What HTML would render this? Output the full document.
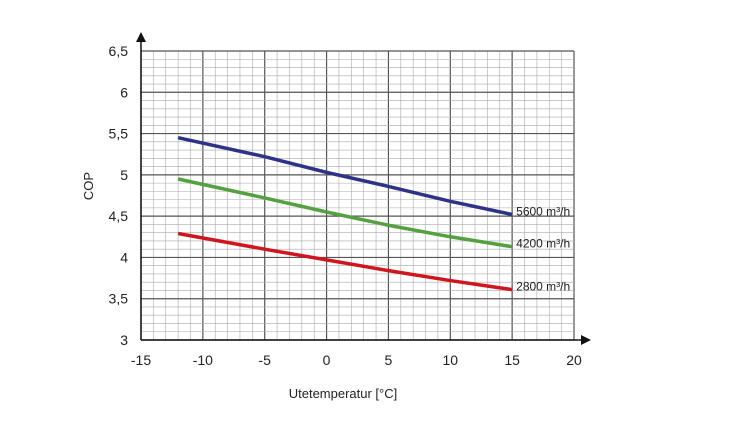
<!DOCTYPE html>
<html><head><meta charset="utf-8"><style>
body{margin:0;background:#fff;font-family:"Liberation Sans",sans-serif}
svg text{font-family:"Liberation Sans",sans-serif;fill:#222}
</style></head><body>
<svg id="c" width="750" height="436"></svg>
<script>
const xs=[-12,-5,0,5,10,15];
const blue=[5.45,5.22,5.03,4.86,4.68,4.52];
const green=[4.95,4.72,4.55,4.39,4.25,4.13];
const red=[4.29,4.10,3.97,3.84,3.72,3.61];
const xTicks=[-15,-10,-5,0,5,10,15,20];
const yTicks=["3","3,5","4","4,5","5","5,5","6","6,5"];
const labels=["5600 m³/h","4200 m³/h","2800 m³/h"];
const L=141,R=574,T=51,B=340;
const X=v=>L+(v+15)/35*(R-L), Y=v=>B-(v-3)/3.5*(B-T);
const s=document.getElementById('c'),ns="http://www.w3.org/2000/svg";
function el(t,a,p){const e=document.createElementNS(ns,t);for(const k in a)e.setAttribute(k,a[k]);(p||s).appendChild(e);return e;}
for(let i=-15;i<=20;i++){const l=el('line',{x1:X(i),x2:X(i),y1:T,y2:B,stroke:i%5==0?'#555':'#aaa','stroke-width':i%5==0?1.2:0.6});

}
for(let i=0;i<=35;i++){const v=3+i*0.1;const l=el('line',{x1:L,x2:R,y1:Y(v),y2:Y(v),stroke:i%5==0?'#555':'#aaa','stroke-width':i%5==0?1.2:0.6});

}
const ax=el('path',{d:`M${L},${B}H${R+10}M${L},${B}V${T-12}`,stroke:'#111','stroke-width':1.5,fill:'none'});


el('path',{d:`M${R+17},${B}l-10,-5v10z`,fill:'#111'});
el('path',{d:`M${L},${T-19}l-5,10h10z`,fill:'#111'});
xTicks.forEach(v=>{const t=el('text',{x:X(v),y:B+25,'text-anchor':'middle','font-size':14});t.textContent=v;

});
yTicks.forEach((v,i)=>{const t=el('text',{x:L-13,y:Y(3+i*0.5)+5,'text-anchor':'end','font-size':14});t.textContent=v;

});
const xt=el('text',{x:343,y:398,'text-anchor':'middle','font-size':13});xt.textContent="Utetemperatur [°C]";


const yt=el('text',{x:93,y:186,'text-anchor':'middle','font-size':13,transform:'rotate(-90 93 186)'});yt.textContent="COP";


[[blue,'#2e3388'],[green,'#55a040'],[red,'#d0151f']].forEach(([d,c],k)=>{
const p=el('polyline',{points:xs.map((x,i)=>X(x)+','+Y(d[i])).join(' '),fill:'none',stroke:c,'stroke-width':3.5});


const t=el('text',{x:X(15)+4,y:Y(d[d.length-1])+1,'font-size':12});t.textContent=labels[k];

});
</script></body></html>
